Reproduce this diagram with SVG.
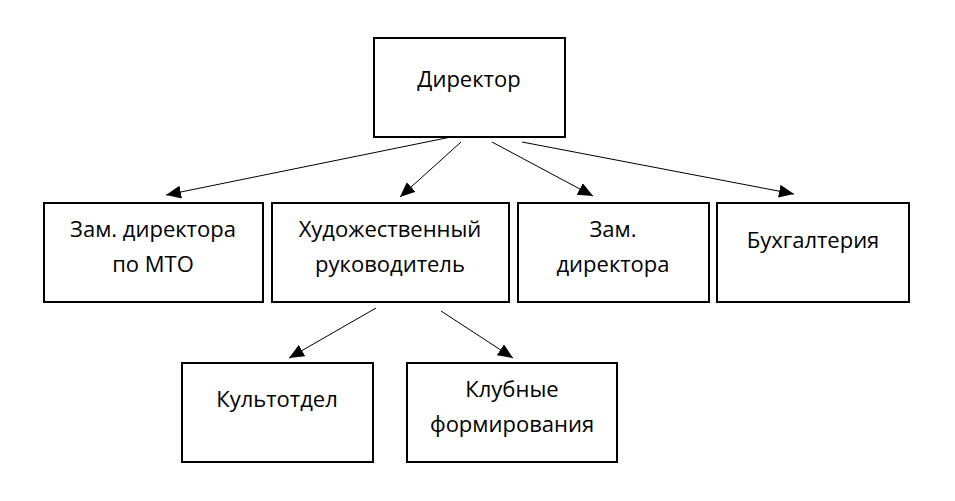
<svg xmlns="http://www.w3.org/2000/svg" width="955" height="501" viewBox="0 0 955 501">
<style>
.box{fill:#fff;stroke:#000;stroke-width:2}
.t{font-family:"Open Sans","DejaVu Sans",sans-serif;font-size:22px;fill:#000;text-anchor:middle}
.c{stroke:#000;stroke-width:1;fill:none;marker-end:url(#ah)}
</style>
<defs>
<marker id="ah" markerUnits="userSpaceOnUse" markerWidth="16" markerHeight="14" refX="15" refY="6.5" orient="auto">
<path d="M0,0 L15,6.5 L0,13 Z" fill="#000"/>
</marker>
</defs>
<rect width="955" height="501" fill="#fff"/>
<g id="director"><rect class="box" x="374" y="38" width="191" height="99"/><text class="t" x="469" y="87">Директор</text></g>
<g id="zam-mto"><rect class="box" x="44" y="203" width="219" height="99"/><text class="t" x="153" y="237">Зам. директора</text><text class="t" x="153" y="272">по МТО</text></g>
<g id="hud"><rect class="box" x="272" y="203" width="237" height="99"/><text class="t" x="390" y="237">Художественный</text><text class="t" x="390" y="272">руководитель</text></g>
<g id="zam"><rect class="box" x="518" y="203" width="191" height="99"/><text class="t" x="613" y="237">Зам.</text><text class="t" x="613" y="272">директора</text></g>
<g id="buh"><rect class="box" x="717" y="203" width="192" height="99"/><text class="t" x="813" y="248">Бухгалтерия</text></g>
<g id="kult"><rect class="box" x="182" y="363" width="191" height="99"/><text class="t" x="277" y="407">Культотдел</text></g>
<g id="klub"><rect class="box" x="407" y="363" width="210" height="99"/><text class="t" x="512" y="397">Клубные</text><text class="t" x="512" y="432">формирования</text></g>
<g id="connectors">
<line class="c" x1="451" y1="137" x2="166" y2="195"/>
<line class="c" x1="461" y1="142" x2="400" y2="197"/>
<line class="c" x1="492" y1="142" x2="593" y2="196"/>
<line class="c" x1="522" y1="142" x2="794" y2="194"/>
<line class="c" x1="376" y1="308" x2="289" y2="358"/>
<line class="c" x1="441" y1="311" x2="513" y2="358"/>
</g>
</svg>
